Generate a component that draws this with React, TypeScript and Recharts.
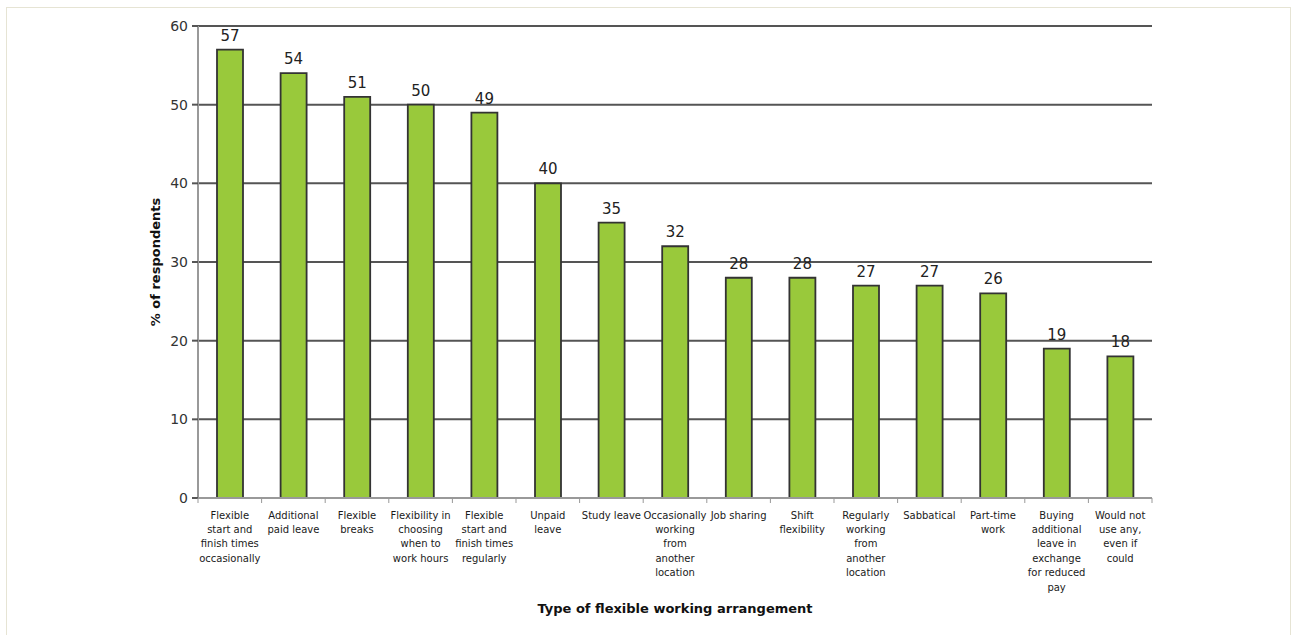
import React from "react";
import {
  BarChart,
  Bar,
  XAxis,
  YAxis,
  CartesianGrid,
  LabelList,
  Label,
} from "recharts";

// Flexible working arrangements, % of respondents who would use each
const ARRANGEMENTS = [
  "Flexible\nstart and\nfinish times\noccasionally",
  "Additional\npaid leave",
  "Flexible\nbreaks",
  "Flexibility in\nchoosing\nwhen to\nwork hours",
  "Flexible\nstart and\nfinish times\nregularly",
  "Unpaid\nleave",
  "Study leave",
  "Occasionally\nworking\nfrom\nanother\nlocation",
  "Job sharing",
  "Shift\nflexibility",
  "Regularly\nworking\nfrom\nanother\nlocation",
  "Sabbatical",
  "Part-time\nwork",
  "Buying\nadditional\nleave in\nexchange\nfor reduced\npay",
  "Would not\nuse any,\neven if\ncould",
];

const RESPONDENTS = [57, 54, 51, 50, 49, 40, 35, 32, 28, 28, 27, 27, 26, 19, 18];

const Y_TICKS = [0, 10, 20, 30, 40, 50, 60];

const data = ARRANGEMENTS.map((name, i) => ({
  name,
  value: RESPONDENTS[i],
}));

const FONT = '"DejaVu Sans", Verdana, sans-serif';

// multi-line category label plus a small tick at each band boundary
function CategoryTick(props: any) {
  const { x, y, payload, index, visibleTicksCount } = props;
  const half = payload?.offset ?? 0;
  const lines = String(payload.value).split("\n");
  const isLast = index === visibleTicksCount - 1;
  return (
    <g>
      <line x1={x - half} x2={x - half} y1={y - 8} y2={y - 3} stroke="#999" strokeWidth={1} />
      {isLast && (
        <line x1={x + half} x2={x + half} y1={y - 8} y2={y - 3} stroke="#999" strokeWidth={1} />
      )}
      <text
        x={x}
        y={y}
        textAnchor="middle"
        fill="#1a1a1a"
        fontSize={10}
        fontFamily={FONT}
      >
        {lines.map((line, i) => (
          <tspan key={i} x={x} dy={i === 0 ? 12.5 : 14.4}>
            {line}
          </tspan>
        ))}
      </text>
    </g>
  );
}

function YTitle(props: any) {
  const { viewBox } = props;
  const cy = viewBox.y + viewBox.height / 2;
  const cx = 155;
  return (
    <text
      x={cx}
      y={cy}
      transform={`rotate(-90, ${cx}, ${cy})`}
      textAnchor="middle"
      dominantBaseline="central"
      fontSize={13}
      fontWeight="bold"
      fontFamily={FONT}
      fill="#111"
    >
      % of respondents
    </text>
  );
}

export default function App() {
  return (
    <div
      style={{
        position: "absolute",
        left: 0,
        top: 0,
        width: 1292,
        height: 635,
        background: "#fff",
      }}
    >
      <div
        style={{
          position: "absolute",
          left: 6,
          top: 7,
          width: 1285,
          height: 640,
          border: "1px solid #e6e4d4",
          boxSizing: "border-box",
        }}
      />
      <BarChart
        width={1292}
        height={635}
        data={data}
        margin={{ top: 26, right: 140, bottom: 22, left: 138 }}
        barCategoryGap={0}
        style={{ position: "absolute", left: 0, top: 0 }}
      >
        <CartesianGrid
          vertical={false}
          stroke="#555"
          strokeWidth={2}
          horizontalValues={[10, 20, 30, 40, 50, 60]}
        />
        <XAxis
          dataKey="name"
          interval={0}
          height={115}
          tickLine={false}
          axisLine={{ stroke: "#999", strokeWidth: 2 }}
          tick={<CategoryTick />}
        >
          <Label
            value="Type of flexible working arrangement"
            position="insideBottom"
            offset={0}
            fontSize={13}
            fontWeight="bold"
            fontFamily={FONT}
            fill="#111"
          />
        </XAxis>
        <YAxis
          width={60}
          domain={[0, 60]}
          ticks={Y_TICKS}
          interval={0}
          tickSize={6}
          tickMargin={4}
          tickLine={{ stroke: "#555", strokeWidth: 2 }}
          axisLine={{ stroke: "#999", strokeWidth: 2 }}
          tick={{ fill: "#333", fontSize: 14, fontFamily: FONT }}
        >
          <Label content={<YTitle />} />
        </YAxis>
        <Bar
          dataKey="value"
          barSize={26}
          fill="#99c93b"
          stroke="#333"
          strokeWidth={1.8}
          isAnimationActive={false}
        >
          <LabelList
            dataKey="value"
            position="top"
            offset={9}
            fill="#222"
            fontSize={15}
            fontFamily={FONT}
          />
        </Bar>
      </BarChart>
    </div>
  );
}
